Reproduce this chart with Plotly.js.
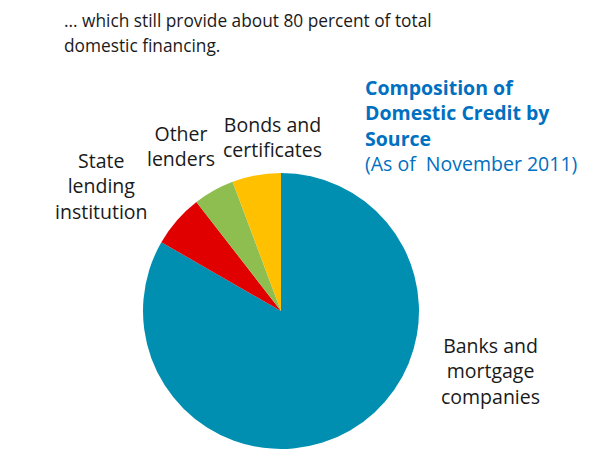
<!DOCTYPE html>
<html><head><meta charset="utf-8">
<script src="https://cdn.plot.ly/plotly-3.0.1.min.js"></script>
<style>html,body{margin:0;padding:0;background:#fff}#c{width:605px;height:454px}</style>
</head><body><div id="c"></div>
<script>
const categories = ["Banks and mortgage companies", "State lending institution", "Other lenders", "Bonds and certificates"];
const shares = [83.3, 6.2, 4.8, 5.7];
const sliceColors = ["#008FB1", "#E00000", "#8DBE4F", "#FFC000"];
const sliceLabels = ["Banks and<br>mortgage<br>companies", "State<br>lending<br>institution", "Other<br>lenders", "Bonds and<br>certificates"];
const headlineLines = ["... which still provide about 80 percent of total", "domestic financing."];
const chartTitle = "<b>Composition of<br>Domestic Credit by<br>Source</b><br>(As of  November 2011)";

const W = 605, H = 454;
const px = x => x / W, py = y => 1 - y / H;
const FONT = "Open Sans";

const labelPos = [[490, 371], [102, 186], [181, 146], [272, 137]];
const annotations = sliceLabels.map((t, i) => ({
  text: t, x: px(labelPos[i][0]), y: py(labelPos[i][1]), xref: "paper", yref: "paper",
  showarrow: false, xanchor: "center", yanchor: "middle", align: "center",
  font: {family: FONT, size: 19.5, color: "#1a1a1a"}
}));
const headY = [20, 45];
headlineLines.forEach((t, i) => annotations.push({
  text: t, x: px(62), y: py(headY[i]), xref: "paper", yref: "paper", showarrow: false,
  xanchor: "left", yanchor: "middle", align: "left",
  font: {family: FONT, size: 17.3, color: "#1a1a1a"}
}));
annotations.push({
  text: chartTitle, x: px(363), y: py(126), xref: "paper", yref: "paper", showarrow: false,
  xanchor: "left", yanchor: "middle", align: "left",
  font: {family: FONT, size: 19.5, color: "#0070C0"}
});

const data = [{
  type: "pie", labels: categories, values: shares, sort: false,
  direction: "clockwise", rotation: 0, textinfo: "none", hoverinfo: "label+percent",
  marker: {colors: sliceColors, line: {width: 0}},
  domain: {x: [px(143), px(419)], y: [py(449), py(173)]}, showlegend: false
}];
const layout = {
  width: W, height: H, margin: {l: 0, r: 0, t: 0, b: 0},
  paper_bgcolor: "#fff", plot_bgcolor: "#fff", showlegend: false,
  annotations: annotations
};
Plotly.newPlot("c", data, layout, {displayModeBar: false, staticPlot: true});
</script></body></html>
